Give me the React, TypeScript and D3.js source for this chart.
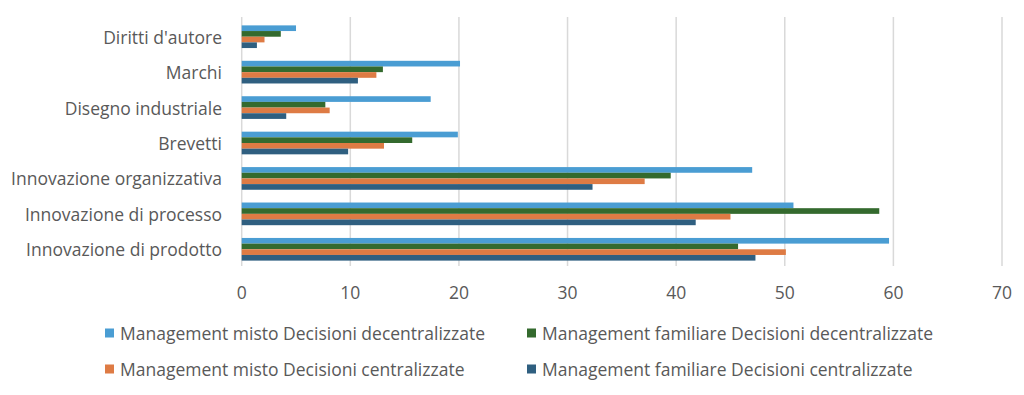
import * as d3 from "d3";
import React from "react";

// categories top to bottom
const categories = [
  "Diritti d'autore",
  "Marchi",
  "Disegno industriale",
  "Brevetti",
  "Innovazione organizzativa",
  "Innovazione di processo",
  "Innovazione di prodotto",
];

const seriesNames = [
  "Management misto Decisioni decentralizzate",
  "Management familiare Decisioni decentralizzate",
  "Management misto Decisioni centralizzate",
  "Management familiare Decisioni centralizzate",
];

const seriesColors = ["#4A9DD3", "#346A2E", "#DE7B44", "#2F5F80"];

const mistoDecentral = [5.0, 20.1, 17.4, 19.9, 47.0, 50.8, 59.6];
const familiareDecentral = [3.6, 13.0, 7.7, 15.7, 39.5, 58.7, 45.7];
const mistoCentral = [2.1, 12.4, 8.1, 13.1, 37.1, 45.0, 50.1];
const familiareCentral = [1.4, 10.7, 4.1, 9.8, 32.3, 41.8, 47.3];

const seriesValues = [mistoDecentral, familiareDecentral, mistoCentral, familiareCentral];

const xTicks = [0, 10, 20, 30, 40, 50, 60, 70];

const W = 1024;
const H = 395;
const FONT = "'Open Sans', sans-serif";
const TEXT = "#595959";
const FS = 17.5;

export default function App() {
  const x = d3.scaleLinear().domain([0, 70]).range([241.7, 1002]);
  const y = d3.scaleBand().domain(categories).range([19, 267]).paddingInner(0.36).paddingOuter(0.18);
  const sub = d3.scaleBand().domain(seriesNames).range([0, y.bandwidth()]);

  const legendPos = [
    { x: 105, y: 333 },
    { x: 527, y: 333 },
    { x: 105, y: 369 },
    { x: 527, y: 369 },
  ];

  return (
    <svg width={W} height={H} style={{ position: "absolute", left: 0, top: 0 }} fontFamily={FONT}>
      <rect width={W} height={H} fill="#fff" />
      {/* gridlines */}
      {xTicks.map((t) => (
        <line key={t} x1={x(t)} x2={x(t)} y1={17} y2={266} stroke="#D9D9D9" strokeWidth={1.5} />
      ))}
      {/* bars */}
      {categories.map((c, i) => (
        <g key={c} transform={`translate(0,${y(c)})`}>
          {seriesNames.map((s, j) => (
            <rect
              key={s}
              x={x(0)}
              y={sub(s)}
              width={x(seriesValues[j][i]) - x(0)}
              height={sub.bandwidth()}
              fill={seriesColors[j]}
            />
          ))}
        </g>
      ))}
      {/* category labels */}
      {categories.map((c) => (
        <text
          key={c}
          x={222}
          y={(y(c) ?? 0) + y.bandwidth() / 2}
          textAnchor="end"
          dominantBaseline="central"
          fontSize={FS}
          fill={TEXT}
        >
          {c}
        </text>
      ))}
      {/* x tick labels */}
      {xTicks.map((t) => (
        <text key={t} x={x(t)} y={292} textAnchor="middle" dominantBaseline="central" fontSize={FS} fill={TEXT}>
          {t}
        </text>
      ))}
      {/* legend */}
      {seriesNames.map((s, j) => (
        <g key={s} transform={`translate(${legendPos[j].x},${legendPos[j].y})`}>
          <rect x={0} y={-4.5} width={9} height={9} fill={seriesColors[j]} />
          <text x={15} y={0} dominantBaseline="central" fontSize={FS} fill={TEXT}>
            {s}
          </text>
        </g>
      ))}
    </svg>
  );
}
